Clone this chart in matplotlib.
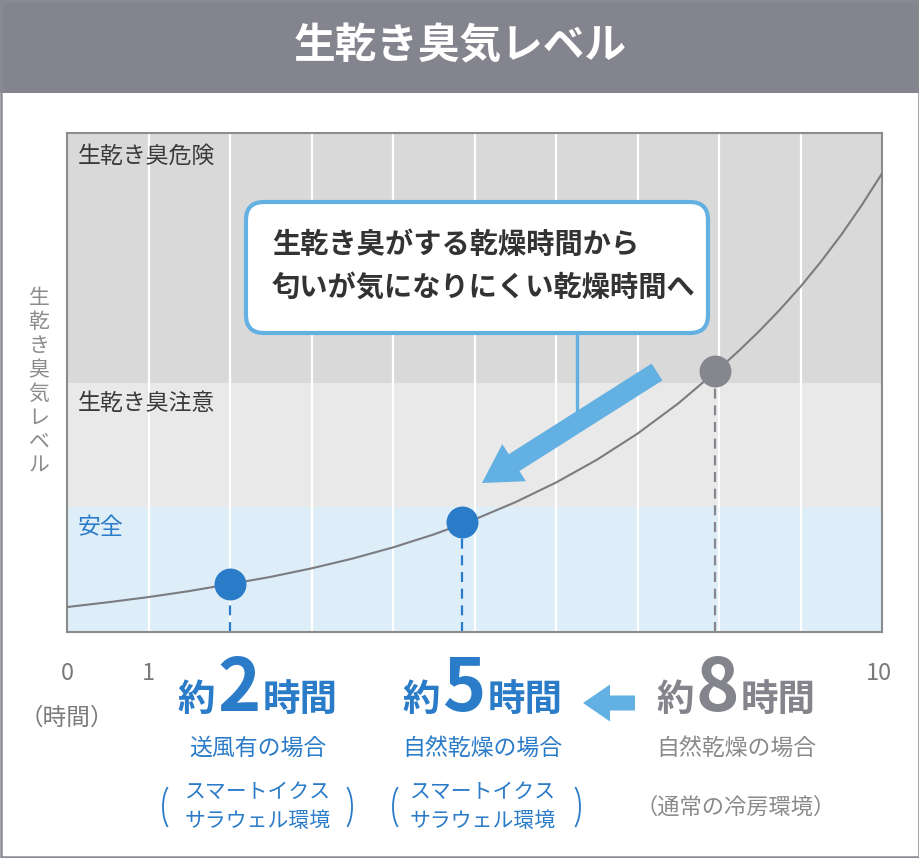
import matplotlib
matplotlib.use("Agg")
import matplotlib.pyplot as plt
from matplotlib.patches import Rectangle, FancyBboxPatch, FancyArrow, Arc

plt.rcParams['font.family'] = ['Noto Sans CJK JP', 'DejaVu Sans']

# ---------------- data ----------------
curve_x = [0, 0.5, 1, 1.5, 2, 2.5, 3, 3.5, 4, 4.5, 5, 5.5, 6, 6.5, 7, 7.5, 8, 8.25, 8.5, 8.75,
           9, 9.25, 9.5, 9.75, 10]
curve_y = [5.0, 5.95, 7.0, 8.2, 9.6, 11.05, 12.75, 14.7, 16.95, 19.55, 22.55, 26.0, 29.95, 34.5,
           39.75, 45.8, 52.75, 56.45, 60.4, 64.65, 69.2, 74.2, 79.6, 85.5, 91.9]
point_x = [2.0, 4.85, 7.95]
point_y = [9.7, 22.0, 52.3]
band_edges = [0, 25, 50, 100]
band_labels = ['安全', '生乾き臭注意', '生乾き臭危険']
x_tick_labels = {0: '0', 1: '1', 10: '10'}
grid_x = [1, 2, 3, 4, 5, 6, 7, 8, 9]
hours = ['2', '5', '8']
conditions = ['送風有の場合', '自然乾燥の場合', '自然乾燥の場合']
environments = [['スマートイクス', 'サラウェル環境'], ['スマートイクス', 'サラウェル環境'], ['（通常の冷房環境）']]
title = '生乾き臭気レベル'
ylabel = '生乾き臭気レベル'
callout = ['生乾き臭がする乾燥時間から', '匂いが気になりにくい乾燥時間へ']

BLUE = '#2a7bc8'
LBLUE = '#63b0e2'
GRAY = '#86868f'
DARK = '#3a3a3a'

W, H = 920, 858
fig = plt.figure(figsize=(W / 100, H / 100), dpi=100)
fig.patch.set_facecolor('white')

# main axes (pixel box 67..882 x 133..632)
L, R, T, B = 67, 882, 133, 632
ax = fig.add_axes([L / W, 1 - B / H, (R - L) / W, (B - T) / H])
ax.set_xlim(0, 10)
ax.set_ylim(0, 100)
band_colors = ['#ddeef8', '#e9e9e9', '#d9d9d9']
for i in range(3):
    ax.axhspan(band_edges[i], band_edges[i + 1], color=band_colors[i], lw=0, zorder=0)
for gx in grid_x:
    ax.axvline(gx, color='white', lw=1.6, zorder=1)
ax.set_xticks([])
ax.set_yticks([])
for s in ax.spines.values():
    s.set_color('#8c8c8c')
    s.set_linewidth(1.5)
ax.plot(curve_x, curve_y, color='#7c7c80', lw=1.5, zorder=3, solid_joinstyle='round')
pcolors = [BLUE, BLUE, GRAY]
for px, py, c in zip(point_x, point_y, pcolors):
    ax.plot([px, px], [0, py], color=c, lw=1.6, ls=(0, (4.5, 3)), zorder=2)
    ax.plot(px, py, 'o', ms=23, color=c, mec='none', zorder=4)

# overlay axes in pixel coordinates
ov = fig.add_axes([0, 0, 1, 1])
ov.set_xlim(0, W)
ov.set_ylim(H, 0)
ov.axis('off')
ov.patch.set_alpha(0)

# title band and border
ov.add_patch(Rectangle((0, 0), W, 93, color='#84848e', lw=0))
ov.add_patch(Rectangle((1, 1), W - 2, H - 2, fill=False, ec='#8a8a92', lw=1.8))
ov.text(W / 2, 46, title, color='white', fontsize=30, fontweight='bold', ha='center', va='center')

# band labels
band_label_y = [528, 404, 156]
band_label_c = [BLUE, DARK, DARK]
for lab, yy, c in zip(band_labels, band_label_y, band_label_c):
    ov.text(78, yy, lab, color=c, fontsize=16.5, ha='left', va='center')

# vertical y label
for i, ch in enumerate(ylabel):
    ov.text(39, 298 + i * 24, ch, color='#8c8c8c', fontsize=15, ha='center', va='center')

# x tick labels
for xv, lab in x_tick_labels.items():
    px = L + xv * (R - L) / 10
    if xv == 10:
        px -= 3
    ov.text(px, 673, lab, color='#7a7a7a', fontsize=17, ha='center', va='center')
ov.text(L, 718, '（時間）', color='#7a7a7a', fontsize=17, ha='center', va='center')

# callout box
ov.add_patch(FancyBboxPatch((246, 202), 462, 131, boxstyle='round,pad=0,rounding_size=18',
                            fc='white', ec=LBLUE, lw=3, zorder=5))
ov.text(272, 245, callout[0], color='#333333', fontsize=20.3, fontweight='bold', ha='left', va='center', zorder=6)
ov.text(272, 288, callout[1], color='#333333', fontsize=20.3, fontweight='bold', ha='left', va='center', zorder=6)
ov.plot([577, 577], [333, 412], color=LBLUE, lw=2.4, zorder=5)
ov.add_patch(FancyArrow(657, 372, -175, 111, width=20, head_width=44, head_length=38,
                        length_includes_head=True, color=LBLUE, lw=0, zorder=5))

# bottom labels
fig.canvas.draw()
renderer = fig.canvas.get_renderer()
group_centers = [257.5, 482.5, 736]
group_colors = [BLUE, BLUE, '#84848c']
base_y = 711
for cx, hr, c in zip(group_centers, hours, group_colors):
    t1 = ov.text(0, base_y, '約', color=c, fontsize=27, fontweight='bold', ha='left', va='baseline')
    t2 = ov.text(0, base_y, hr, color=c, fontsize=53, fontweight='bold', ha='left', va='baseline')
    t3 = ov.text(0, base_y, '時間', color=c, fontsize=27, fontweight='bold', ha='left', va='baseline')
    ws = [t.get_window_extent(renderer).width for t in (t1, t2, t3)]
    gap = 2
    total = sum(ws) + 2 * gap
    x0 = cx - total / 2
    t1.set_x(x0)
    t2.set_x(x0 + ws[0] + gap)
    t3.set_x(x0 + ws[0] + ws[1] + 2 * gap)

sub_colors = [BLUE, BLUE, '#8a8a8a']
for cx, cond, c in zip(group_centers, conditions, sub_colors):
    ov.text(cx, 748, cond, color=c, fontsize=16.5, ha='center', va='center')

paren_spans = [(163, 352), (393, 580)]
for i, (cx, env) in enumerate(zip(group_centers, environments)):
    if len(env) == 2:
        ov.text(cx, 792, env[0], color=BLUE, fontsize=15, ha='center', va='center')
        ov.text(cx, 821, env[1], color=BLUE, fontsize=15, ha='center', va='center')
        pl, pr = paren_spans[i]
        ov.add_patch(Arc((pl + 12, 807), 24, 50, theta1=110, theta2=250, color=BLUE, lw=1.3))
        ov.add_patch(Arc((pr - 12, 807), 24, 50, theta1=-70, theta2=70, color=BLUE, lw=1.3))
    else:
        ov.text(cx, 807, env[0], color='#8a8a8a', fontsize=16, ha='center', va='center')

# left arrow between 5h and 8h
ov.add_patch(FancyArrow(635, 703, -52, 0, width=15, head_width=37, head_length=27,
                        length_includes_head=True, color=LBLUE, lw=0))

fig.savefig('out.png', dpi=100, facecolor='white')
